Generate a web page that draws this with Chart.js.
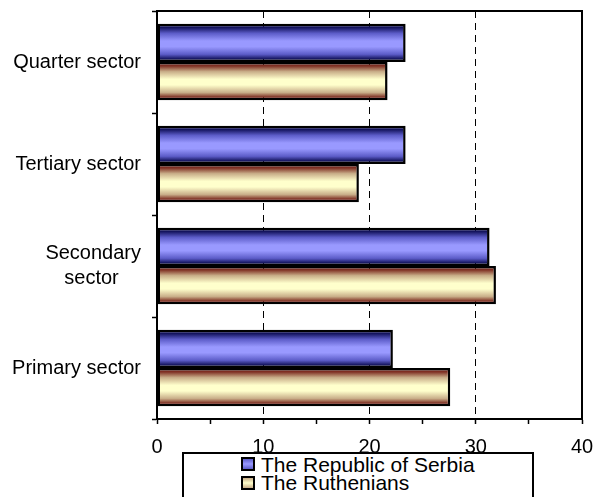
<!DOCTYPE html>
<html>
<head>
<meta charset="utf-8">
<script src="https://cdn.jsdelivr.net/npm/chart.js@4.4.0/dist/chart.umd.min.js"></script>
<style>
  html, body { margin: 0; padding: 0; background: #fff; overflow: hidden; }
  #wrap { position: relative; width: 595px; height: 497px; }
  #legend {
    position: absolute; left: 182px; top: 452px; width: 352px; height: 70px;
    box-sizing: border-box; border: 2px solid #000; background: #fff;
    padding: 2px 0 0 57px;
    font-family: "Liberation Sans", Arial, sans-serif; font-size: 21px; color: #000;
  }
  .item { height: 18.3px; line-height: 18.3px; white-space: nowrap; }
  .mark {
    display: inline-block; width: 14px; height: 14px; box-sizing: border-box;
    border: 2px solid #000; vertical-align: middle; margin-right: 6px; position: relative; top: -2px;
  }
</style>
</head>
<body>
<div id="wrap">
  <canvas id="chart" width="595" height="497"></canvas>
  <div id="legend"></div>
</div>
<script>
// categories top to bottom
const categories = ['Quarter sector', 'Tertiary sector', ['Secondary', 'sector'], 'Primary sector']
const seriesNames = ['The Republic of Serbia', 'The Ruthenians']
const serbia = [23.4, 23.4, 31.3, 22.2]
const ruthenians = [21.7, 19.0, 31.9, 27.6]
const xTicks = [0, 10, 20, 30, 40]

const shades = [
    { dark: '#14145e', mid: '#5c5cc8', light: '#9999ff' },
    { dark: '#7e2e22', mid: '#c8ad88', light: '#ffffcc' },
]

// vertical gradient per bar, worked out from the category scale
function barFill(ctx) {
    const chart = ctx.chart
    const s = shades[ctx.datasetIndex]
    if (!chart.chartArea || ctx.dataIndex === undefined) return s.light
    const y = chart.scales.y
    const center = y.getPixelForValue(ctx.dataIndex)
    const band = y.height / categories.length
    const h = band * 0.375
    const top = ctx.datasetIndex === 0 ? center - h : center
    const g = chart.ctx.createLinearGradient(0, top, 0, top + h)
    g.addColorStop(0, s.dark)
    g.addColorStop(0.1, s.dark)
    g.addColorStop(0.25, s.mid)
    g.addColorStop(0.45, s.light)
    g.addColorStop(0.6, s.light)
    g.addColorStop(0.8, s.mid)
    g.addColorStop(0.92, s.dark)
    g.addColorStop(1, s.dark)
    return g
}

const frame = {
    id: 'frame',
    afterDraw(chart) {
        const { ctx, chartArea: a } = chart
        ctx.save()
        ctx.strokeStyle = '#000'
        ctx.lineWidth = 2
        ctx.beginPath()
        ctx.moveTo(a.left, a.top)
        ctx.lineTo(a.right, a.top)
        ctx.lineTo(a.right, a.bottom)
        ctx.stroke()
        ctx.restore()
    }
}

Chart.defaults.font.family = '"Liberation Sans", Arial, sans-serif'
Chart.defaults.color = '#000'

const ctx = document.getElementById('chart').getContext('2d')
const myChart = new Chart(ctx, {
    type: 'bar',
    data: {
        labels: categories,
        datasets: [{
            label: seriesNames[0],
            data: serbia,
            backgroundColor: barFill,
            borderColor: '#000',
            borderWidth: 2.5,
            borderSkipped: false,
        }, {
            label: seriesNames[1],
            data: ruthenians,
            backgroundColor: barFill,
            borderColor: '#000',
            borderWidth: 2.5,
            borderSkipped: false,
        }]
    },
    options: {
        indexAxis: 'y',
        responsive: false,
        animation: false,
        categoryPercentage: 0.75,
        barPercentage: 1.0,
        layout: { padding: { top: 11, right: 13, left: 0, bottom: 0 } },
        plugins: {
            legend: { display: false },
            tooltip: { enabled: false }
        },
        scales: {
            x: {
                min: 0,
                max: 40,
                afterFit: s => {
                    s.height = 78
                    s.paddingLeft = 0
                    s.paddingRight = 0
                },
                ticks: {
                    stepSize: 5,
                    autoSkip: false,
                    maxRotation: 0,
                    padding: 11,
                    font: { size: 20 },
                    callback: v => xTicks.includes(v) ? String(v) : ''
                },
                grid: {
                    color: c => (c.tick && [10, 20, 30].includes(c.tick.value)) ? '#000' : 'rgba(0,0,0,0)',
                    lineWidth: 1,
                    tickColor: '#000',
                    tickLength: 5,
                    tickWidth: 1.5,
                },
                border: { display: true, color: '#000', width: 2, dash: [7, 5] }
            },
            y: {
                afterFit: s => {
                    s.width = 157
                    s.paddingTop = 0
                    s.paddingBottom = 0
                },
                ticks: {
                    padding: 11,
                    font: { size: 20, lineHeight: 1.25 },
                    callback: function (v, i) {
                        const l = categories[i]
                        return Array.isArray(l) ? [l[0], l[1] + '    '] : l
                    }
                },
                grid: {
                    drawOnChartArea: false,
                    tickColor: '#000',
                    tickLength: 5,
                    tickWidth: 1.5,
                },
                border: { display: true, color: '#000', width: 2 }
            }
        }
    },
    plugins: [frame]
})

// legend box as html
const legend = document.getElementById('legend')
seriesNames.forEach((name, i) => {
    const row = document.createElement('div')
    row.className = 'item'
    const m = document.createElement('span')
    m.className = 'mark'
    m.style.background = 'linear-gradient(' + shades[i].mid + ',' + shades[i].light + ',' + shades[i].mid + ')'
    row.appendChild(m)
    row.appendChild(document.createTextNode(name))
    legend.appendChild(row)
})
</script>
</body>
</html>
